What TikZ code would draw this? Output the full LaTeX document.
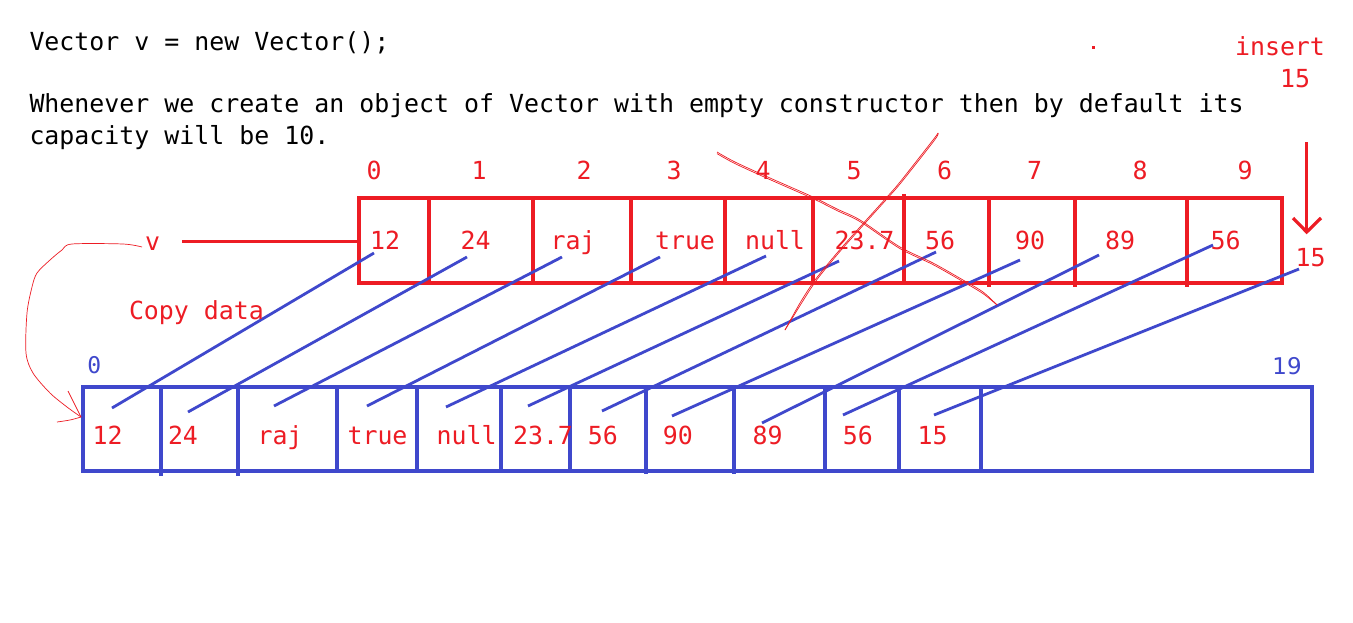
\documentclass[tikz,border=0pt]{standalone}
\usepackage{fontspec}
\newfontfamily\dvmono{DejaVu Sans Mono}
\newfontfamily\dvsans{DejaVu Sans}
\definecolor{pred}{RGB}{237,28,36}
\definecolor{pblue}{RGB}{63,72,204}
\begin{document}
\begin{tikzpicture}[x=1pt,y=-1pt,
  txt/.style={font=\dvmono\fontsize{24.9pt}{30pt}\selectfont, inner sep=0pt, outer sep=0pt},
  lbl/.style={txt, text=pred, anchor=base},
  tcell/.style={draw=pred, line width=3.2pt, minimum height=85pt, inner sep=0pt, outer sep=0pt},
  bcell/.style={draw=pblue, line width=3.2pt, minimum height=84pt, inner sep=0pt, outer sep=0pt},
  bline/.style={draw=pblue, line width=2.8pt},
  rline/.style={draw=pred, line width=3.2pt},
  scribble/.style={draw=pred, line width=0.7pt},
  bidx/.style={inner sep=0pt, outer sep=0pt, text=pblue, anchor=base}
]
\useasboundingbox[fill=white] (0,0) rectangle (1353,622);

% heading text
\node[txt, anchor=base west] (h1) at (29.5,50) {Vector v = new Vector();};
\node[txt, anchor=base west] (h2) at (29.5,112) {Whenever we create an object of Vector with empty constructor then by default its};
\node[txt, anchor=base west] (h3) at (29.5,144) {capacity will be 10.};

% top array (capacity 10)
\foreach \a/\b [count=\i from 0] in {359/429,429/533,533/631,631/725,725/813,813/904,904/989,989/1075,1075/1187,1187/1282}{
  \pgfmathsetmacro\w{\b-\a}
  \pgfmathsetmacro\c{(\a+\b)/2}
  \node[tcell, minimum width=\w pt] (t\i) at (\c,240.5) {};
}
\draw[rline] (t6.north west) -- ++(0,-4);
\foreach \i in {7,8,9}{ \draw[rline] (t\i.south west) -- ++(0,4); }

% top indices
\foreach \x [count=\i from 0] in {374,479,584,674,763,854,944.5,1034.6,1140,1245}{
  \node[lbl] (ti\i) at (\x,179) {\i};
}
% top values
\foreach \x/\t [count=\i from 0] in {385/12,475.5/24,573/raj,685/true,775/null,864.5/23.7,940/56,1030/90,1120/89,1225.6/56}{
  \node[lbl] (tv\i) at (\x,249) {\t};
}

% bottom array (capacity 20)
\foreach \a/\b [count=\i from 0] in {83/161,161/238,238/337,337/417,417/501,501/570,570/646,646/734,734/825,825/899,899/981,981/1312}{
  \pgfmathsetmacro\w{\b-\a}
  \pgfmathsetmacro\c{(\a+\b)/2}
  \node[bcell, minimum width=\w pt] (b\i) at (\c,429) {};
}
\draw[draw=pblue, line width=3.2pt] (b1.south west) -- ++(0,5) (b2.south west) -- ++(0,5)
  (b7.south west) -- ++(0,2.5) (b8.south west) -- ++(0,2.5);

% bottom values
\foreach \x/\t [count=\i from 0] in {107.5/12,183/24,280/raj,377.5/true,466.7/null,543/23.7,602.8/56,677.8/90,767.5/89,857.8/56,932.5/15}{
  \node[lbl] (bv\i) at (\x,444) {\t};
}
\node[bidx, font=\dvmono\fontsize{23pt}{27pt}\selectfont] (bi0) at (94.3,373.5) {0};
\node[bidx, font=\dvsans\fontsize{23pt}{27pt}\selectfont] (bi19) at (1287,374) {19};

% copy lines
\foreach \sx/\sy/\ex/\ey [count=\i] in {374/253/112/408, 467/257/188/412, 562/257/274/406, 660/257/367/406, 766/256/446/407, 839/261/528/406, 936/252/602/411, 1020/260/672/416, 1099/255/762/423, 1213/245/843/415, 1299/269/934/415}{
  \coordinate (s\i) at (\sx,\sy);
  \coordinate (e\i) at (\ex,\ey);
  \draw[bline] (s\i) -- (e\i);
}

% reference v
\node[lbl] (v) at (152.7,250) {v};
\coordinate (vl) at (182,241.7);
\draw[rline] (vl) -- (t0.west |- vl);

% copy data label
\node[txt, text=pred, anchor=base west] (cd) at (129,319) {Copy data};

% insert 15
\node[lbl] (ins) at (1280,55) {insert};
\node[lbl] (ins15) at (1295,87) {15};
\node[lbl] (new15) at (1310.5,266) {15};
\coordinate (atop) at (1306.7,142);
\coordinate (atip) at (1306.7,232);
\draw[rline] (atop) -- (atip);
\draw[rline] (1293,218) -- (atip) -- (1321,218);
\fill[pred] (1091.5,45.5) rectangle (1094.5,48.5);

% crossing scribbles
\foreach \o in {0,1.6}{
  \draw[scribble] plot[smooth] coordinates {(717,152+\o) (735,162+\o) (770,178+\o) (813,197+\o) (837,209+\o) (860,220+\o) (900,247+\o) (933,263+\o) (963,280+\o) (983,292+\o) (997,305)};
  \draw[scribble] plot[smooth] coordinates {(785,330) (800+\o,303) (815+\o,280) (837+\o,253) (860+\o,227) (887+\o,197) (900+\o,182) (933+\o,140) (938,133)};
}

% curved arrow from v to new array
\draw[scribble] plot[smooth] coordinates {(142,247) (123,244) (72,244) (62,250) (50,260) (37,273) (32,287) (27,313) (26,353) (33,373) (50,393) (67,407) (81,417)};
\draw[scribble] (68,391) -- (81,417);
\draw[scribble] plot[smooth] coordinates {(57,422) (70,420) (81,417)};
\end{tikzpicture}
\end{document}
